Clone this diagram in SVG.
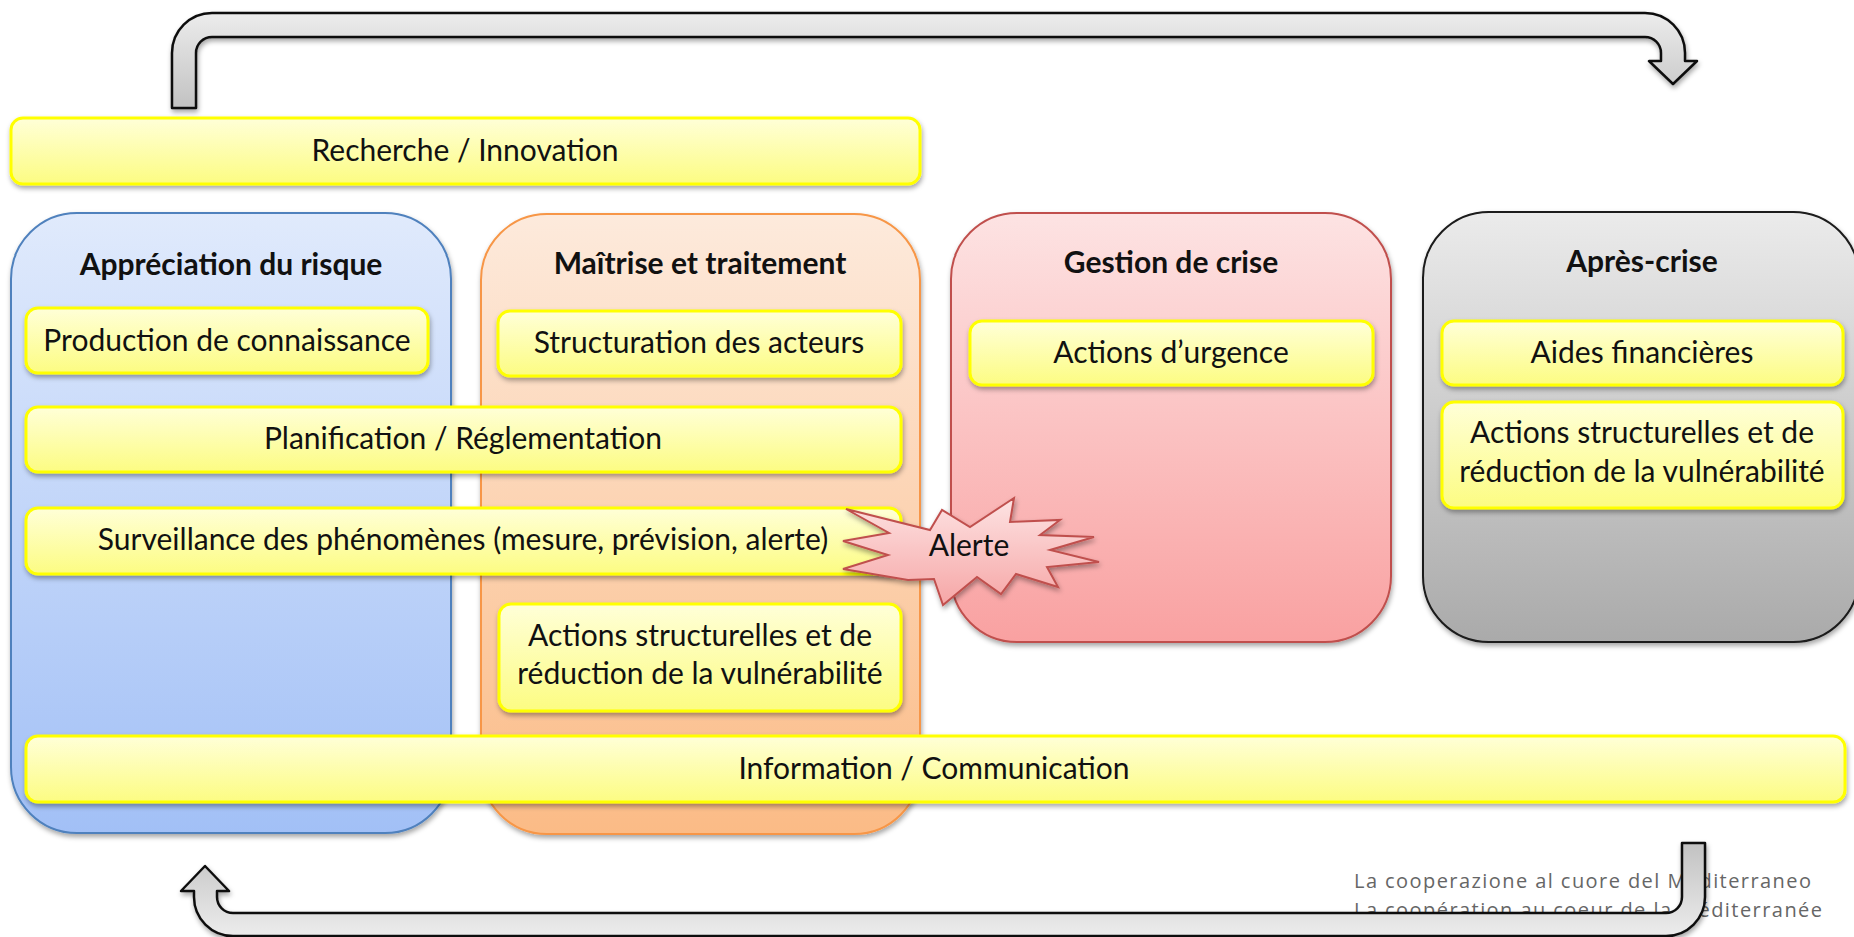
<svg xmlns="http://www.w3.org/2000/svg" width="1854" height="937" viewBox="0 0 1854 937">
<defs>
<linearGradient id="gBlue" x1="0" y1="0" x2="0" y2="1"><stop offset="0" stop-color="#e0eafc"/><stop offset="1" stop-color="#a2c0f6"/></linearGradient>
<linearGradient id="gOrange" x1="0" y1="0" x2="0" y2="1"><stop offset="0" stop-color="#fdeadc"/><stop offset="1" stop-color="#fbbb86"/></linearGradient>
<linearGradient id="gRed" x1="0" y1="0" x2="0" y2="1"><stop offset="0" stop-color="#fde3e3"/><stop offset="1" stop-color="#f9a1a1"/></linearGradient>
<linearGradient id="gGrey" x1="0" y1="0" x2="0" y2="1"><stop offset="0" stop-color="#ebebeb"/><stop offset="1" stop-color="#aaaaaa"/></linearGradient>
<linearGradient id="gYellow" x1="0" y1="0" x2="0" y2="1"><stop offset="0" stop-color="#ffffd8"/><stop offset="1" stop-color="#fcfc82"/></linearGradient>
<linearGradient id="gArrowTop" x1="0" y1="0" x2="0" y2="1"><stop offset="0" stop-color="#ececec"/><stop offset="1" stop-color="#c2c2c2"/></linearGradient>
<linearGradient id="gArrowBot" x1="0" y1="0" x2="0" y2="1"><stop offset="0" stop-color="#c2c2c2"/><stop offset="1" stop-color="#ececec"/></linearGradient>
<linearGradient id="gStar" x1="0" y1="0" x2="0" y2="1"><stop offset="0" stop-color="#fde3e3"/><stop offset="1" stop-color="#f6a6a6"/></linearGradient>
<filter id="shadow" x="-10%" y="-10%" width="120%" height="130%">
<feDropShadow dx="1" dy="3" stdDeviation="2.5" flood-color="#000" flood-opacity="0.35"/>
</filter>
<style>
.col{stroke-width:2;filter:url(#shadow)}
.box{fill:url(#gYellow);stroke:#ffff00;stroke-width:3;filter:url(#shadow)}
.t{font-family:Lato,"Liberation Sans",sans-serif;font-size:30px;fill:#111;text-anchor:middle}
.h{font-family:Lato,"Liberation Sans",sans-serif;font-size:30px;font-weight:bold;fill:#111;text-anchor:middle}
.arrow{stroke:#111;stroke-width:2.5;stroke-linejoin:round;filter:url(#shadow)}
.foot{font-family:"Open Sans","Liberation Sans",sans-serif;font-size:20px;fill:#666}
</style>
</defs>

<g id="col-appreciation">
<rect class="col" x="11" y="213" width="440" height="620" rx="66" fill="url(#gBlue)" stroke="#4f81bd"/>
<text class="h" x="231" y="275">Appréciation du risque</text>
</g>
<g id="col-maitrise">
<rect class="col" x="481" y="214" width="439" height="620" rx="66" fill="url(#gOrange)" stroke="#f79646"/>
<text class="h" x="700" y="274">Maîtrise et traitement</text>
</g>
<g id="col-gestion">
<rect class="col" x="951" y="213" width="440" height="429" rx="66" fill="url(#gRed)" stroke="#c0504d"/>
<text class="h" x="1171" y="273">Gestion de crise</text>
</g>
<g id="col-apres">
<rect class="col" x="1423" y="212" width="436" height="430" rx="66" fill="url(#gGrey)" stroke="#1a1a1a"/>
<text class="h" x="1642" y="272">Après-crise</text>
</g>

<g id="box-recherche">
<rect class="box" x="11" y="118" width="909" height="66" rx="12"/>
<text class="t" x="465" y="161">Recherche / Innovation</text>
</g>
<g id="box-production">
<rect class="box" x="26" y="308" width="402" height="65" rx="12"/>
<text class="t" x="227" y="351">Production de connaissance</text>
</g>
<g id="box-structuration">
<rect class="box" x="498" y="311" width="403" height="65" rx="12"/>
<text class="t" x="699" y="353">Structuration des acteurs</text>
</g>
<g id="box-planification">
<rect class="box" x="26" y="407" width="875" height="65" rx="12"/>
<text class="t" x="463" y="449">Planification / Réglementation</text>
</g>
<g id="box-surveillance">
<rect class="box" x="26" y="508" width="875" height="66" rx="12"/>
<text class="t" x="463" y="550">Surveillance des phénomènes (mesure, prévision, alerte)</text>
</g>
<g id="box-actions-maitrise">
<rect class="box" x="499" y="604" width="402" height="107" rx="12"/>
<text class="t" x="700" y="646">Actions structurelles et de</text>
<text class="t" x="700" y="684">réduction de la vulnérabilité</text>
</g>
<g id="box-urgence">
<rect class="box" x="970" y="321" width="403" height="64" rx="12"/>
<text class="t" x="1171" y="363">Actions d’urgence</text>
</g>
<g id="box-aides">
<rect class="box" x="1442" y="321" width="401" height="64" rx="12"/>
<text class="t" x="1642" y="363">Aides financières</text>
</g>
<g id="box-actions-apres">
<rect class="box" x="1442" y="402" width="401" height="106" rx="12"/>
<text class="t" x="1642" y="443">Actions structurelles et de</text>
<text class="t" x="1642" y="482">réduction de la vulnérabilité</text>
</g>
<g id="box-information">
<rect class="box" x="26" y="736" width="1819" height="66" rx="12"/>
<text class="t" x="934" y="779">Information / Communication</text>
</g>

<g id="alerte">
<polygon points="846,509 930,530 942,510 970,527 1014,498 1010,522 1060,520 1040,535 1094,537 1050,550 1099,562 1047,567 1058,587 1016,574 1001,594 977,577 943,605 934,579 908,580 843,569 888,555 843,541 889,533" fill="url(#gStar)" stroke="#c0504d" stroke-width="2" stroke-linejoin="miter" filter="url(#shadow)"/>
<text class="t" x="969" y="556">Alerte</text>
</g>

<g id="footer">
<text class="foot" x="1354" y="888" textLength="457">La cooperazione al cuore del Mediterraneo</text>
<text class="foot" x="1354" y="917" textLength="468">La coopération au coeur de la Méditerranée</text>
</g>

<g id="connectors">
<path class="arrow" fill="url(#gArrowTop)" d="M172,108 L172,53 A40,40 0 0 1 212,13 L1645,13 A40,40 0 0 1 1685,53 L1685,61 L1697,61 L1673,84 L1649,61 L1661,61 L1661,53 A16,16 0 0 0 1645,37 L212,37 A16,16 0 0 0 196,53 L196,108 Z"/>
<path class="arrow" fill="url(#gArrowBot)" d="M1682,843 L1705,843 L1705,897 A39,39 0 0 1 1666,936 L233,936 A39,39 0 0 1 194,897 L194,891 L181,891 L205,866 L229,891 L217,891 L217,897 A16,16 0 0 0 233,913 L1666,913 A16,16 0 0 0 1682,897 Z"/>
</g>
</svg>
